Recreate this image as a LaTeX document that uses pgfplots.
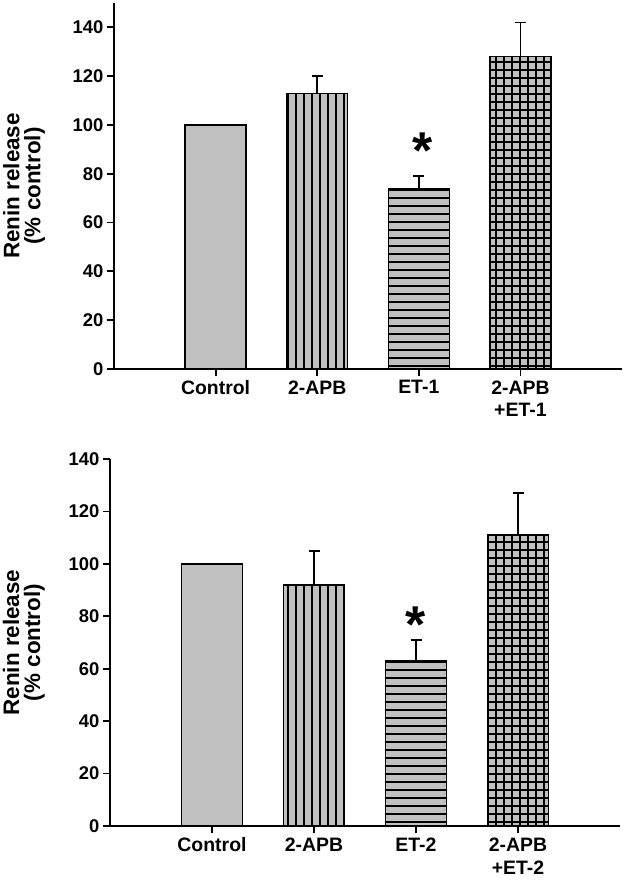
\documentclass[border=0pt]{standalone}
\usepackage{fontspec}
\setmainfont{Liberation Sans}
\usepackage{pgfplots}
\pgfplotsset{compat=1.18}
\usetikzlibrary{patterns,patterns.meta}
\definecolor{barfill}{RGB}{192,192,192}
\pgfplotsset{
  renin/.style={
    scale only axis,
    axis x line=bottom, axis y line=left,
    axis line style={line width=2.2bp,-},
    xmin=0, xmax=5, ymin=0,
    xtick={1,2,3,4},
    ytick={0,20,...,140},
    tick style={line width=1.8bp,black},
    major tick length=7bp,
    tick align=outside,
    /pgf/number format/assume math mode=true,
    yticklabel style={font=\bfseries\fontsize{18.5}{20}\selectfont, xshift=0bp},
    xticklabel style={font=\bfseries\fontsize{19.5}{23}\selectfont, align=center, anchor=north, yshift=-1bp},
    ylabel={Renin release\\(\% control)},
    ylabel style={font=\bfseries\fontsize{22.5}{21}\selectfont, align=center, anchor=center},
    clip=false,
  },
  onebar/.style={ybar, bar width=0.6, bar shift=0pt, draw=black, line width=1.5bp, fill=barfill,
    error bars/y dir=plus, error bars/y explicit,
    error bars/error bar style={line width=1.6bp,black},
    error bars/error mark options={rotate=90,mark size=5.5bp,line width=1.6bp,black}},
  vl/.style={postaction={pattern={Lines[angle=90,distance=8bp,line width=1.6bp]}}},
  hl/.style={postaction={pattern={Lines[angle=0,distance=8bp,line width=1.5bp]}}},
  gl/.style={postaction={pattern={Hatch[angle=0,distance=8bp,line width=1.6bp]}}},
}
\begin{document}
\begin{tikzpicture}
\path[use as bounding box] (0,0) rectangle (625bp,886bp);
% top panel
\begin{axis}[renin, at={(114bp,517bp)}, anchor=south west, width=508bp, height=366bp,
  ymax=150, xticklabels={Control,2-APB,ET-1,{2-APB\\+ET-1}},
  ylabel style={at={(axis description cs:-0.177,0.5)}}]
\addplot[onebar] coordinates {(1,100)};
\addplot[onebar, vl] coordinates {(2,113) +- (0,7)};
\addplot[onebar, hl] coordinates {(3,74) +- (0,5)};
\addplot[onebar, gl] coordinates {(4,128) +- (0,14)};
\node[font=\bfseries\fontsize{52}{52}\selectfont] at (axis cs:3.04,89.5) {*};
\end{axis}
% bottom panel
\begin{axis}[renin, at={(110bp,60bp)}, anchor=south west, width=510bp, height=367bp,
  ymax=140, xticklabels={Control,2-APB,ET-2,{2-APB\\+ET-2}},
  ylabel style={at={(axis description cs:-0.169,0.5)}}]
\addplot[onebar] coordinates {(1,100)};
\addplot[onebar, vl] coordinates {(2,92) +- (0,13)};
\addplot[onebar, hl] coordinates {(3,63) +- (0,8)};
\addplot[onebar, gl] coordinates {(4,111) +- (0,16)};
\node[font=\bfseries\fontsize{52}{52}\selectfont] at (axis cs:3,76.7) {*};
\end{axis}
\end{tikzpicture}
\end{document}
